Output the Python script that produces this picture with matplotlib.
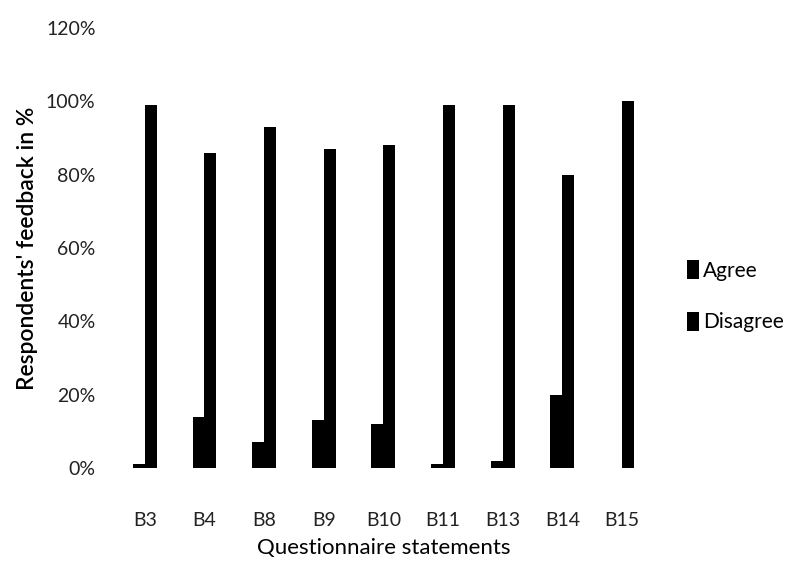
import matplotlib.pyplot as plt
import numpy as np
from matplotlib.ticker import PercentFormatter

statements = ["B3", "B4", "B8", "B9", "B10", "B11", "B13", "B14", "B15"]
agree = [1, 14, 7, 13, 12, 1, 2, 20, 0]
disagree = [99, 86, 93, 87, 88, 99, 99, 80, 100]

FONT = ["Lato", "DejaVu Sans"]
plt.rcParams["font.family"] = FONT

fig = plt.figure(figsize=(7.91, 5.61), dpi=100)
ax = fig.add_axes([0.1454, 0.1658, 0.6786, 0.7842])

x = np.arange(len(statements))
width = 0.2
ax.bar(x - width / 2, np.array(agree) / 100, width, color="black", label="Agree")
ax.bar(x + width / 2, np.array(disagree) / 100, width, color="black", label="Disagree")

ax.set_xlim(-0.5, len(statements) - 0.5)
ax.set_ylim(0, 1.2)
ax.set_yticks(np.arange(0, 1.21, 0.2))
ax.yaxis.set_major_formatter(PercentFormatter(1.0, decimals=0))
ax.set_xticks(x)
ax.set_xticklabels(statements)
ax.tick_params(length=0, labelsize=14, colors="#222222")
ax.tick_params(axis="y", pad=14)
ax.tick_params(axis="x", pad=32)
for s in ax.spines.values():
    s.set_visible(False)

ax.set_ylabel("Respondents' feedback in %", fontsize=16.5, fontweight="semibold", labelpad=6)
ax.set_xlabel("Questionnaire statements", fontsize=16, labelpad=6)

ax.legend(loc="center left", bbox_to_anchor=(1.03, 0.39), frameon=False, fontsize=15,
          handlelength=0.6, handleheight=1.0, handletextpad=0.2, labelspacing=1.5)

fig.savefig("out.png", dpi=100)
